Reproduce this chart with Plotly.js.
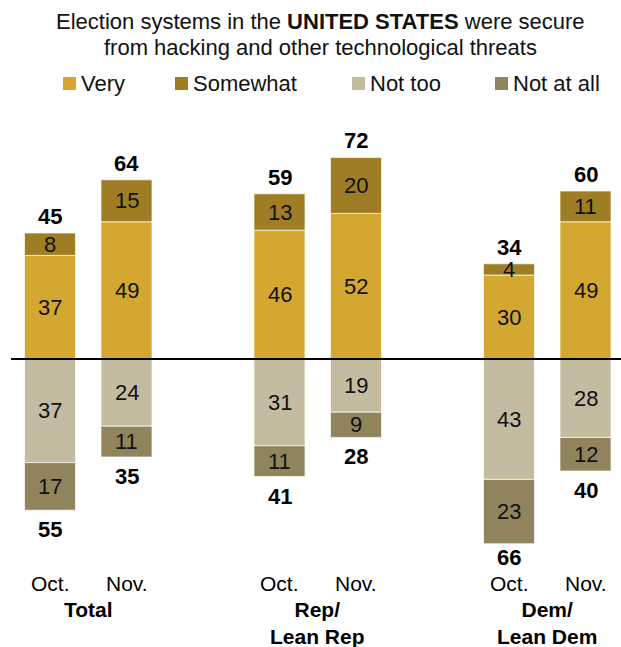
<!DOCTYPE html>
<html>
<head>
<meta charset="utf-8">
<script src="https://cdn.plot.ly/plotly-3.0.1.min.js"></script>
<style>html,body{margin:0;padding:0;background:#fff}#chart{width:621px;height:647px}</style>
</head>
<body>
<div id="chart"></div>
<script>
// ---- data ----
const groups = ['Total', 'Rep/<br>Lean Rep', 'Dem/<br>Lean Dem'];
const periods = ['Oct.', 'Nov.', 'Oct.', 'Nov.', 'Oct.', 'Nov.'];
const xPos = [0, 1, 3, 4, 6, 7];
const seriesNames = ['Very', 'Somewhat', 'Not too', 'Not at all'];
const very = [37, 49, 46, 52, 30, 49];
const somewhat = [8, 15, 13, 20, 4, 11];
const notToo = [37, 24, 31, 19, 43, 28];
const notAtAll = [17, 11, 11, 9, 23, 12];
const secureNet = [45, 64, 59, 72, 34, 60];
const notSecureNet = [55, 35, 41, 28, 66, 40];
const colors = ['#D3A730', '#9F7D25', '#C3BCA1', '#8F845C'];

const FONT = 'Liberation Sans, Arial, sans-serif';
const W = 621, H = 647;
const px = v => v / W;
const py = v => 1 - v / H;

const series = [very, somewhat, notToo.map(v => -v), notAtAll.map(v => -v)];
const traces = series.map((vals, i) => ({
  type: 'bar', x: xPos, y: vals, name: seriesNames[i], width: 0.667,
  marker: {color: colors[i], line: {color: 'rgba(255,255,255,0.7)', width: 1}},
  hoverinfo: 'skip', showlegend: false
}));

const ann = [];
const seg = (x, y, t) => ann.push({x, y, xref: 'x', yref: 'y', text: String(t), showarrow: false,
  xanchor: 'center', yanchor: 'middle', font: {family: FONT, size: 22, color: '#111'}});
xPos.forEach((x, i) => {
  seg(x, very[i] / 2, very[i]);
  seg(x, very[i] + somewhat[i] / 2, somewhat[i]);
  seg(x, -notToo[i] / 2, notToo[i]);
  seg(x, -(notToo[i] + notAtAll[i] / 2), notAtAll[i]);
  const bottom = notToo[i] + notAtAll[i];
  ann.push({x, y: very[i] + somewhat[i], xref: 'x', yref: 'y', text: '<b>' + secureNet[i] + '</b>',
    showarrow: false, xanchor: 'center', yanchor: 'bottom', yshift: 2, font: {family: FONT, size: 22, color: '#000'}});
  ann.push({x, y: -bottom, xref: 'x', yref: 'y', text: '<b>' + notSecureNet[i] + '</b>',
    showarrow: false, xanchor: 'center', yanchor: 'top', yshift: bottom > 60 ? 1 : -5,
    font: {family: FONT, size: 22, color: '#000'}});
  ann.push({x, y: py(583), xref: 'x', yref: 'paper', text: periods[i], showarrow: false,
    xanchor: 'center', yanchor: 'middle', font: {family: FONT, size: 21, color: '#000'}});
});
groups.forEach((g, k) => {
  const xc = (xPos[2 * k] + xPos[2 * k + 1]) / 2;
  ann.push({x: xc, y: py(596), xref: 'x', yref: 'paper', text: '<b>' + g + '</b>', showarrow: false,
    xanchor: 'center', yanchor: 'top', font: {family: FONT, size: 21, color: '#000'}});
});
// title
ann.push({x: px(320), y: py(22), xref: 'paper', yref: 'paper', showarrow: false, xanchor: 'center', yanchor: 'middle',
  text: 'Election systems in the <b>UNITED STATES</b> were secure', font: {family: FONT, size: 22, color: '#111'}});
ann.push({x: px(320), y: py(47), xref: 'paper', yref: 'paper', showarrow: false, xanchor: 'center', yanchor: 'middle',
  text: 'from hacking and other technological threats', font: {family: FONT, size: 22, color: '#111'}});

// legend (manual)
const legX = [63, 175, 352, 495];
const shapes = [];
legX.forEach((lx, i) => {
  shapes.push({type: 'rect', xref: 'paper', yref: 'paper', x0: px(lx), x1: px(lx + 13), y0: py(90), y1: py(77),
    fillcolor: colors[i], line: {width: 0}});
  ann.push({x: px(lx + 16), y: py(83), xref: 'paper', yref: 'paper', xanchor: 'left', yanchor: 'middle', showarrow: false,
    text: seriesNames[i], font: {family: FONT, size: 22, color: '#111'}});
});
shapes.push({type: 'line', xref: 'paper', yref: 'y', x0: px(11), x1: 1, y0: 0, y1: 0,
  line: {color: '#000', width: 2}, layer: 'above'});

const layout = {
  width: W, height: H, margin: {l: 0, r: 0, t: 0, b: 0},
  paper_bgcolor: '#fff', plot_bgcolor: '#fff', barmode: 'relative',
  xaxis: {range: [-50 / 76.5, 571 / 76.5], visible: false, fixedrange: true},
  yaxis: {range: [-(H - 359) / 2.8, 359 / 2.8], visible: false, fixedrange: true},
  showlegend: false, annotations: ann, shapes: shapes
};
Plotly.newPlot('chart', traces, layout, {staticPlot: true});
</script>
</body>
</html>
